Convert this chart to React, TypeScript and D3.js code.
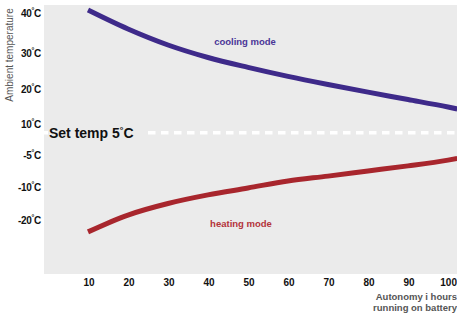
import React, { useRef, useEffect } from "react";
import * as d3 from "d3";

// часы работы от батареи (последняя точка - у края картинки)
const hours = [10, 20, 30, 40, 50, 60, 70, 80, 90, 100, 102.3];
const cooling = [40.75, 36, 32, 28.75, 26, 23.5, 21.25, 19.1, 17, 14.85, 14.3];
const heating = [-23.6, -18.5, -15, -12.4, -10.3, -9.05, -8.3, -7.5, -6.7, -5.8, -5.55];

const xTicks = [10, 20, 30, 40, 50, 60, 70, 80, 90, 100];
const yTicks = [40, 30, 20, 10, -5, -10, -20];
const setTemp = 5;

const W = 457;
const H = 315;

const App = () => {
    const svgRef = useRef<SVGSVGElement>(null);

    useEffect(() => {
        const svg = d3.select(svgRef.current);
        svg.selectAll("*").remove();

        const plot = { left: 44, top: 5, right: 457, bottom: 274 };

        const x = d3.scaleLinear().domain([10, 100]).range([88, 448]);
        // ось неравномерная: шкала по отрезкам
        const y = d3
            .scaleLinear()
            .domain(yTicks)
            .range([13, 53, 89, 124, 155, 187, 220]);

        const font = "'Liberation Sans', Arial, sans-serif";

        svg.append("rect")
            .attr("x", plot.left)
            .attr("y", plot.top)
            .attr("width", plot.right - plot.left)
            .attr("height", plot.bottom - plot.top)
            .attr("fill", "#ebebeb");

        // метки оси Y с градусом
        const yLab = svg.append("g")
            .selectAll("text")
            .data(yTicks)
            .enter()
            .append("text")
            .attr("x", 41)
            .attr("y", d => y(d) + 3.5)
            .attr("text-anchor", "end")
            .style("font-family", font)
            .style("font-size", "10px")
            .style("font-weight", "bold")
            .style("letter-spacing", "-0.3px")
            .attr("fill", "#111");
        yLab.append("tspan").text(d => `${d}`);
        yLab.append("tspan").attr("dy", -3.5).style("font-size", "7px").text("°");
        yLab.append("tspan").attr("dy", 3.5).text("C");

        svg.append("text")
            .attr("transform", `translate(13, 55) rotate(-90)`)
            .attr("text-anchor", "middle")
            .style("font-family", font)
            .style("font-size", "10px")
            .attr("fill", "#555")
            .text("Ambient temperature");

        // метки оси X
        svg.append("g")
            .selectAll("text")
            .data(xTicks)
            .enter()
            .append("text")
            .attr("x", d => (d === 100 ? 457 : x(d) + 1))
            .attr("y", 286)
            .attr("text-anchor", d => (d === 100 ? "end" : "middle"))
            .style("font-family", font)
            .style("font-size", "10px")
            .style("font-weight", "bold")
            .attr("fill", "#111")
            .text(d => d);

        const xTitle = svg.append("text")
            .attr("text-anchor", "end")
            .style("font-family", font)
            .style("font-size", "9.5px")
            .style("font-weight", "bold")
            .attr("fill", "#555");
        xTitle.append("tspan").attr("x", 457).attr("y", 300).text("Autonomy i hours");
        xTitle.append("tspan").attr("x", 457).attr("y", 311).text("running on battery");

        // линия заданной температуры
        const ys = y(setTemp) - 1.5;
        svg.append("line")
            .attr("x1", plot.left)
            .attr("x2", plot.right)
            .attr("y1", ys)
            .attr("y2", ys)
            .attr("stroke", "#fff")
            .attr("stroke-width", 3.5)
            .attr("stroke-dasharray", "7.5,5.5");
        svg.append("rect")
            .attr("x", 48)
            .attr("y", ys - 10)
            .attr("width", 95)
            .attr("height", 20)
            .attr("fill", "#ebebeb");
        const st = svg.append("text")
            .attr("x", 49)
            .attr("y", ys + 5)
            .style("font-family", font)
            .style("font-size", "14px")
            .style("font-weight", "bold")
            .attr("fill", "#111");
        st.append("tspan").text("Set temp 5");
        st.append("tspan").attr("dy", -5).style("font-size", "9px").text("°");
        st.append("tspan").attr("dy", 5).text("C");

        const line = d3
            .line<number>()
            .x((d, i) => x(hours[i]))
            .y(d => y(d))
            .curve(d3.curveMonotoneX);

        svg.append("path")
            .attr("d", line(cooling))
            .attr("fill", "none")
            .attr("stroke", "#3e2a8a")
            .attr("stroke-width", 5);

        svg.append("path")
            .attr("d", line(heating))
            .attr("fill", "none")
            .attr("stroke", "#a8262d")
            .attr("stroke-width", 5);

        svg.append("text")
            .attr("x", 245)
            .attr("y", 45)
            .attr("text-anchor", "middle")
            .style("font-family", font)
            .style("font-size", "9.5px")
            .style("font-weight", "bold")
            .attr("fill", "#4a3597")
            .text("cooling mode");

        svg.append("text")
            .attr("x", 241)
            .attr("y", 227)
            .attr("text-anchor", "middle")
            .style("font-family", font)
            .style("font-size", "9.5px")
            .style("font-weight", "bold")
            .attr("fill", "#b3333a")
            .text("heating mode");
    }, []);

    return (
        <div style={{ position: "fixed", left: 0, top: 0, background: "#fff" }}>
            <svg ref={svgRef} width={W} height={H} style={{ display: "block" }}></svg>
        </div>
    );
};

export default App;
